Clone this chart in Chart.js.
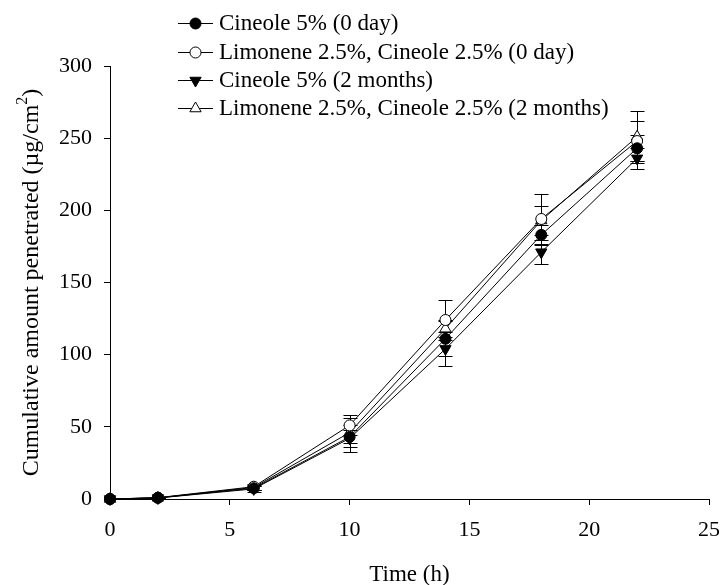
<!DOCTYPE html>
<html>
<head>
<meta charset="utf-8">
<script src="https://cdn.jsdelivr.net/npm/chart.js@4/dist/chart.umd.min.js"></script>
<style>
  html, body { margin: 0; padding: 0; background: #fff; }
  #wrap { width: 725px; height: 585px; position: relative; }
</style>
</head>
<body>
<div id="wrap"><canvas id="chart"></canvas></div>
<script>
// sampling times (h)
const times = [0, 2, 6, 10, 14, 18, 22];
const xTicks = [0, 5, 10, 15, 20, 25];
const yTicks = [0, 50, 100, 150, 200, 250, 300];

const seriesNames = [
  "Cineole 5% (0 day)",
  "Limonene 2.5%, Cineole 2.5% (0 day)",
  "Cineole 5% (2 months)",
  "Limonene 2.5%, Cineole 2.5% (2 months)",
];

// cumulative amount (ug/cm2) and SD
const cineole0 = [0, 0.8, 7.5, 43, 111, 183, 243];
const cineole0Err = [0, 0.3, 1.5, 4.5, 12, 7, 9];
const limonene0 = [0, 0.9, 8.5, 51, 124, 194, 248];
const limonene0Err = [0, 0.3, 2, 7, 14, 17, 14];
const cineole2m = [0, 0.7, 7, 42, 104, 171, 236];
const cineole2mErr = [0, 0.3, 2, 9.5, 12, 8.5, 7.5];
const limonene2m = [0, 0.8, 8, 46, 118, 193, 251];
const limonene2mErr = [0, 0.3, 1.5, 10, 6, 10, 18];

const FONT = "'Liberation Serif', 'Times New Roman', serif";

function toXY(vals) {
  return times.map((t, i) => ({ x: t, y: vals[i] }));
}

const markers = [
  { style: "circle", fill: "#000", radius: 5.5, rotation: 0 },
  { style: "circle", fill: "#fff", radius: 5.5, rotation: 0 },
  { style: "triangle", fill: "#000", radius: 6.5, rotation: 180 },
  { style: "triangle", fill: "#fff", radius: 6.5, rotation: 0 },
];
const allVals = [cineole0, limonene0, cineole2m, limonene2m];
const allErrs = [cineole0Err, limonene0Err, cineole2mErr, limonene2mErr];

const datasets = seriesNames.map((name, i) => ({
  label: name,
  data: toXY(allVals[i]),
  errors: allErrs[i],
  borderColor: "#000",
  borderWidth: 1,
  pointStyle: markers[i].style,
  pointRotation: markers[i].rotation,
  pointRadius: markers[i].radius,
  pointBackgroundColor: markers[i].fill,
  pointBorderColor: "#000",
  pointBorderWidth: 1,
  tension: 0,
  clip: false,
}));

const errorBars = {
  id: "errorBars",
  beforeDatasetsDraw(chart) {
    const ctx = chart.ctx;
    const xs = chart.scales.x;
    const ys = chart.scales.y;
    ctx.save();
    ctx.strokeStyle = "#000";
    ctx.lineWidth = 1;
    chart.data.datasets.forEach((ds) => {
      ds.data.forEach((p, i) => {
        const e = ds.errors[i];
        if (!e) return;
        const px = Math.round(xs.getPixelForValue(p.x)) + 0.5;
        const top = Math.round(ys.getPixelForValue(p.y + e)) + 0.5;
        const bot = Math.round(ys.getPixelForValue(p.y - e)) + 0.5;
        ctx.beginPath();
        ctx.moveTo(px, top);
        ctx.lineTo(px, bot);
        ctx.moveTo(px - 7, top);
        ctx.lineTo(px + 7, top);
        ctx.moveTo(px - 7, bot);
        ctx.lineTo(px + 7, bot);
        ctx.stroke();
      });
    });
    ctx.restore();
  },
};

function drawMarker(ctx, m, x, y) {
  ctx.beginPath();
  if (m.style === "circle") {
    ctx.arc(x, y, m.radius, 0, Math.PI * 2);
  } else {
    let rad = (m.rotation * Math.PI) / 180;
    for (let k = 0; k < 3; k++) {
      const px = x + Math.sin(rad) * m.radius;
      const py = y - Math.cos(rad) * m.radius;
      if (k === 0) ctx.moveTo(px, py);
      else ctx.lineTo(px, py);
      rad += (2 * Math.PI) / 3;
    }
    ctx.closePath();
  }
  ctx.fillStyle = m.fill;
  ctx.fill();
  ctx.stroke();
}

const legendAndTitles = {
  id: "legendAndTitles",
  afterDraw(chart) {
    const ctx = chart.ctx;
    const area = chart.chartArea;
    ctx.save();
    ctx.strokeStyle = "#000";
    ctx.fillStyle = "#000";
    ctx.lineWidth = 1;
    ctx.font = "23px " + FONT;
    ctx.textBaseline = "middle";
    const rowY = [23, 52, 80, 108];
    seriesNames.forEach((name, i) => {
      const y = rowY[i];
      ctx.beginPath();
      ctx.moveTo(178, y + 0.5);
      ctx.lineTo(213, y + 0.5);
      ctx.stroke();
      drawMarker(ctx, markers[i], 195.5, y + 0.5);
      ctx.fillStyle = "#000";
      ctx.fillText(name, 219, y + 1);
    });

    // x title
    ctx.textAlign = "center";
    ctx.textBaseline = "middle";
    ctx.fillText("Time (h)", (area.left + area.right) / 2, 575);

    // y title with superscript
    const main = "Cumulative amount penetrated (\u00b5g/cm";
    const sup = "2";
    const tail = ")";
    ctx.font = "24px " + FONT;
    const wMain = ctx.measureText(main).width;
    const wTail = ctx.measureText(tail).width;
    ctx.font = "16px " + FONT;
    const wSup = ctx.measureText(sup).width;
    const total = wMain + wSup + wTail;
    ctx.translate(32, (area.top + area.bottom) / 2);
    ctx.rotate(-Math.PI / 2);
    ctx.textAlign = "left";
    ctx.textBaseline = "middle";
    const x0 = -total / 2;
    ctx.font = "24px " + FONT;
    ctx.fillText(main, x0, 0);
    ctx.font = "16px " + FONT;
    ctx.fillText(sup, x0 + wMain, -9);
    ctx.font = "24px " + FONT;
    ctx.fillText(tail, x0 + wMain + wSup, 0);
    ctx.restore();
  },
};

new Chart(document.getElementById("chart"), {
  type: "line",
  data: { datasets: datasets },
  options: {
    responsive: true,
    maintainAspectRatio: false,
    animation: false,
    devicePixelRatio: 1,
    layout: { padding: { top: 66, right: 16, left: 0, bottom: 0 } },
    plugins: { legend: { display: false }, tooltip: { enabled: false } },
    scales: {
      x: {
        type: "linear",
        min: 0,
        max: 25,
        afterBuildTicks: (s) => { s.ticks = xTicks.map((v) => ({ value: v })); },
        afterFit: (s) => {
          s.height = 86;
          s.paddingLeft = 0;
          s.paddingRight = 0;
        },
        grid: { display: true, drawOnChartArea: false, drawTicks: true, tickLength: 6, color: "#000" },
        border: { display: true, color: "#000", width: 1 },
        ticks: { color: "#000", font: { family: FONT, size: 22 }, padding: 12, maxRotation: 0 },
      },
      y: {
        min: 0,
        max: 300,
        afterBuildTicks: (s) => { s.ticks = yTicks.map((v) => ({ value: v })); },
        afterFit: (s) => {
          s.width = 110;
          s.paddingTop = 0;
          s.paddingBottom = 0;
        },
        grid: { display: true, drawOnChartArea: false, drawTicks: true, tickLength: 6, color: "#000" },
        border: { display: true, color: "#000", width: 1 },
        ticks: { color: "#000", font: { family: FONT, size: 22 }, padding: 12 },
      },
    },
  },
  plugins: [errorBars, legendAndTitles],
});
</script>
</body>
</html>
